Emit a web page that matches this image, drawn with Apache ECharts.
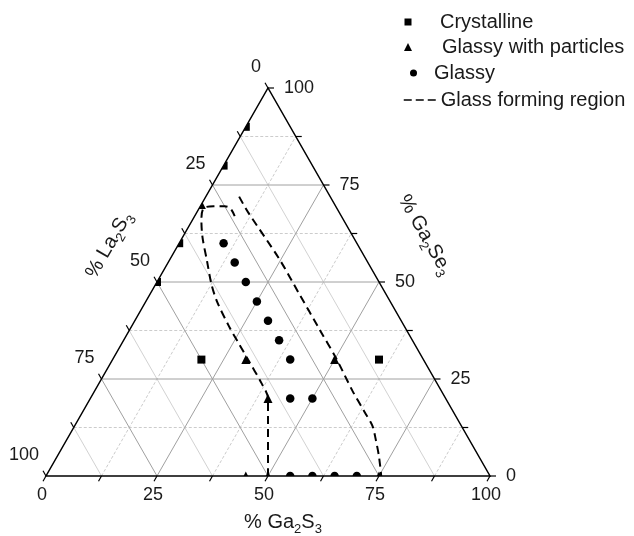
<!DOCTYPE html>
<html><head><meta charset="utf-8">
<script src="https://cdn.jsdelivr.net/npm/echarts@6/dist/echarts.min.js"></script>
<style>html,body{margin:0;padding:0;background:#fff}#c{width:634px;height:536px}</style>
</head><body><div id="c"></div>
<script>
// Ternary compositions: [ % La2S3, % Ga2S3, % Ga2Se3 ]
const crystalline = [[10,0,90],[20,0,80],[40,0,60],[50,0,50],[50,20,30],[10,60,30]];
const glassyParticles = [[30,0,70],[40,30,30],[20,50,30],[40,40,20],[55,45,0],[50,50,0],[25,75,0]];
const glassy = [[30,10,60],[30,15,55],[30,20,50],[30,25,45],[30,30,40],[30,35,35],[30,40,30],
                [35,45,20],[30,50,20],[45,55,0],[40,60,0],[35,65,0],[30,70,0]];
const glassLeft = [[50,50,0],[44,44,12],[40,40,20],[39.5,36.5,24],[39.5,30.5,30],[39.5,26.5,34],
                   [39.5,22,38.5],[39,16,45],[38,12.5,49.5],[36,8.5,55.5],[34,4.5,61.5],[32,2,66],
                   [30,1,69],[27.5,3,69.5],[25,5.5,69.5],[24,7,69],[24,9,67]];
const glassRight = [[20.5,7.5,72],[20.5,11.5,68],[19.5,24.5,56],[19.5,33.5,47],[19.5,42.5,38],
                    [19.5,50.5,30],[20,58,22],[20,63.5,16.5],[20,67,13],[21,69.5,9.5],[22.5,72.5,5],[24.5,75.5,0]];
const tickValues = [0,12.5,25,37.5,50,62.5,75,87.5,100];
const labelValues = [0,25,50,75,100];
const tickLabels = ['0','25','50','75','100'];
const majorGrid = [25,50,75];
const minorGrid = [12.5,37.5,62.5,87.5];

const FONT = '"Liberation Sans", Arial, Helvetica, sans-serif';
const TXT = '#1a1a1a';

function tern(a,b,c){ return [b + c/2, c]; }
const toXY = p => tern(p[0],p[1],p[2]);

// grid lines
const gridLines = [];
function addFamily(vals, kind){
  vals.forEach(v=>{
    gridLines.push({kind, fam:'c', p1:tern(100-v,0,v), p2:tern(0,100-v,v)});
    gridLines.push({kind, fam:'b', p1:tern(100-v,v,0), p2:tern(0,v,100-v)});
    gridLines.push({kind, fam:'a', p1:tern(v,0,100-v), p2:tern(v,100-v,0)});
  });
}
addFamily(minorGrid,'minor'); addFamily(majorGrid,'major');

function axisPoint(axis, v){
  if(axis==='b') return tern(100-v, v, 0);
  if(axis==='a') return tern(v, 0, 100-v);
  return tern(0, 100-v, v);
}
const tickItems = [];
['b','a','c'].forEach(axis => tickValues.forEach(v => tickItems.push({axis, p:axisPoint(axis,v)})));
const labelItems = [];
['b','a','c'].forEach(axis => labelValues.forEach((v,i) => labelItems.push({axis, p:axisPoint(axis,v), t:tickLabels[i]})));

function dirFor(axis, api){
  let A,B;
  if(axis==='b'){A=api.coord([0,0]); B=api.coord([50,100]);}
  else if(axis==='a'){A=api.coord([50,100]); B=api.coord([100,0]);}
  else {A=api.coord([100,0]); B=api.coord([0,0]);}
  const dx=A[0]-B[0], dy=A[1]-B[1], L=Math.hypot(dx,dy); return [dx/L, dy/L];
}

const titles = [
  {p:tern(0,50,0), off:[15,46], rot:0, text:'% Ga{s|2}S{s|3}'},
  {p:tern(50,0,50), off:[-48,-37], rot:Math.PI/3, text:'% La{s|2}S{s|3}'},
  {p:tern(0,50,50), off:[46,-47], rot:-Math.PI/3, text:'% Ga{s|2}Se{s|3}'}
];

const masks = [
  [[0,0],[50,100],[50,125],[-25,125],[-25,0]],
  [[100,0],[50,100],[50,125],[125,125],[125,0]],
  [[-25,0],[125,0],[125,-12],[-25,-12]]
];

const chart = echarts.init(document.getElementById('c'), null, {renderer:'canvas'});
const legendBase = {orient:'vertical', padding:0, itemGap:0, z:20, selectedMode:false,
  textStyle:{fontSize:20, fontFamily:FONT, color:TXT}};
chart.setOption({
  animation:false,
  backgroundColor:'#fff',
  grid:{left:46, right:144, top:88, bottom:60},
  xAxis:{type:'value', min:0, max:100, show:false},
  yAxis:{type:'value', min:0, max:100, show:false},
  legend:[
    Object.assign({}, legendBase, {data:[{name:'Crystalline', icon:'rect'}], left:404.5, top:12, itemWidth:7, itemHeight:7,
      textStyle:Object.assign({}, legendBase.textStyle, {padding:[0,0,0,23.5]})}),
    Object.assign({}, legendBase, {data:[{name:'Glassy with particles', icon:'triangle'}], left:404, top:37, itemWidth:8, itemHeight:8,
      textStyle:Object.assign({}, legendBase.textStyle, {padding:[0,0,0,25]})}),
    Object.assign({}, legendBase, {data:[{name:'Glassy', icon:'circle'}], left:410, top:63, itemWidth:7, itemHeight:7,
      textStyle:Object.assign({}, legendBase.textStyle, {padding:[0,0,0,12]})}),
    Object.assign({}, legendBase, {data:[{name:'Glass forming region', itemStyle:{opacity:0},
      lineStyle:{color:'#000', width:1.5, type:[8,4]}}], left:403, top:90, itemWidth:32, itemHeight:14})
  ],
  series:[
    {type:'custom', name:'grid', silent:true, z:1, data:gridLines.map(g=>[g.p1[0],g.p1[1],g.p2[0],g.p2[1]]),
     encode:{x:[0,2], y:[1,3]},
     renderItem(params, api){
       const g = gridLines[params.dataIndex];
       const A = api.coord(g.p1), B = api.coord(g.p2);
       let style;
       if(g.kind==='major') style={stroke:'#a0a0a0', lineWidth:1};
       else if(g.fam==='a') style={stroke:'#d2d2d2', lineWidth:1};
       else style={stroke:'#cccccc', lineWidth:1, lineDash:[3,2]};
       return {type:'line', shape:{x1:A[0],y1:A[1],x2:B[0],y2:B[1]}, style};
     }},
    {type:'scatter', name:'Crystalline', symbol:'rect', symbolSize:8, clip:false, z:2,
     itemStyle:{color:'#000', opacity:1}, data:crystalline.map(toXY)},
    {type:'scatter', name:'Glassy with particles', symbol:'triangle', symbolSize:9, clip:false, z:2,
     itemStyle:{color:'#000', opacity:1}, data:glassyParticles.map(toXY)},
    {type:'scatter', name:'Glassy', symbol:'circle', symbolSize:8.5, clip:false, z:2,
     itemStyle:{color:'#000', opacity:1}, data:glassy.map(toXY)},
    {type:'line', name:'Glass forming region', symbol:'none', z:2, clip:false, smooth:0.3,
     itemStyle:{color:'#000'}, lineStyle:{color:'#000', width:2, type:[8,5]}, data:glassLeft.map(toXY)},
    {type:'line', name:'Glass forming region', symbol:'none', z:2, clip:false, smooth:0.3,
     itemStyle:{color:'#000'}, lineStyle:{color:'#000', width:2, type:[8,5]}, data:glassRight.map(toXY)},
    {type:'custom', name:'mask', silent:true, z:3, data:masks.map(m=>m[0]),
     renderItem(params, api){
       const pts = masks[params.dataIndex].map(p=>api.coord(p));
       return {type:'polygon', shape:{points:pts}, style:{fill:'#fff', stroke:null}};
     }},
    {type:'custom', name:'edges', silent:true, z:5, data:[[0,0]],
     renderItem(params, api){
       const pts = [[0,0],[100,0],[50,100]].map(p=>api.coord(p));
       return {type:'polygon', shape:{points:pts}, style:{fill:null, stroke:'#000', lineWidth:1.5}};
     }},
    {type:'custom', name:'ticks', silent:true, z:5, data:tickItems.map(t=>t.p),
     renderItem(params, api){
       const it = tickItems[params.dataIndex];
       const P = api.coord(it.p), d = dirFor(it.axis, api);
       return {type:'line', shape:{x1:P[0],y1:P[1],x2:P[0]+d[0]*6,y2:P[1]+d[1]*6}, style:{stroke:'#000', lineWidth:1.2}};
     }},
    {type:'custom', name:'ticklabels', silent:true, z:6, data:labelItems.map(t=>t.p),
     renderItem(params, api){
       const it = labelItems[params.dataIndex];
       const P = api.coord(it.p);
       let x,y,align;
       if(it.axis==='b'){ const d=dirFor('b',api); x=P[0]+d[0]*8; y=P[1]+19; align='center'; }
       else if(it.axis==='a'){ x=P[0]-7; y=P[1]-21; align='right'; }
       else { x=P[0]+16; y=P[1]; align='left'; }
       return {type:'text', style:{text:it.t, x, y, align, verticalAlign:'middle', fontSize:18, fontFamily:FONT, fill:TXT}};
     }},
    {type:'custom', name:'titles', silent:true, z:6, data:titles.map(t=>t.p),
     renderItem(params, api){
       const t = titles[params.dataIndex];
       const P = api.coord(t.p);
       return {type:'text', x:P[0]+t.off[0], y:P[1]+t.off[1], rotation:t.rot,
         style:{text:t.text, x:0, y:0, align:'center', verticalAlign:'middle', fontSize:20, lineHeight:22,
           fontFamily:FONT, fill:TXT,
           rich:{s:{fontSize:13, lineHeight:13, padding:[14,0,0,0], fontFamily:FONT, fill:TXT}}}};
     }}
  ]
});
</script></body></html>
